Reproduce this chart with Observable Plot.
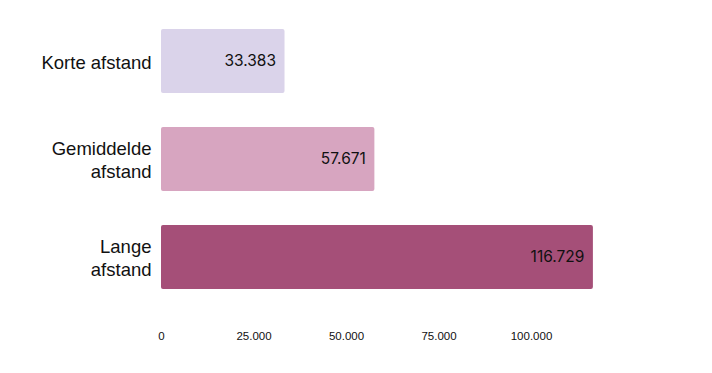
<!DOCTYPE html>
<html><head><meta charset="utf-8">
<script src="https://cdn.jsdelivr.net/npm/d3@7"></script>
<script src="https://cdn.jsdelivr.net/npm/@observablehq/plot@0.6"></script>
<style>body{margin:0;background:#fff}</style>
</head><body><div id="chart"></div>
<script>
const categories = ["Korte afstand", "Gemiddelde\nafstand", "Lange\nafstand"];
const values = [33383, 57671, 116729];
const colors = ["#dad3ea", "#d7a5c0", "#a54f78"];
const xTicks = [0, 25000, 50000, 75000, 100000];

const loc = d3.formatLocale({decimal: ",", thousands: ".", grouping: [3], currency: ["", ""]});
const fmt = loc.format(",d");
const data = categories.map((c, i) => ({cat: c, value: values[i], color: colors[i]}));

const chart = Plot.plot({
  width: 712, height: 373,
  marginLeft: 161, marginRight: 107, marginTop: 0, marginBottom: 56,
  style: {fontFamily: "Liberation Sans, Arial, sans-serif", background: "#fff"},
  x: {domain: [0, 120000], axis: null},
  y: {domain: categories, range: [0, 317], paddingInner: 0.35, paddingOuter: 0.29, axis: null},
  marks: [
    Plot.barX(data, {x: "value", y: "cat", fill: "color", rx: 2}),
    Plot.text(data, {x: "value", y: "cat", text: d => fmt(d.value), textAnchor: "end", dx: -9, fontSize: 15.5, fill: "#111", fontFamily: "Inter, Roboto, sans-serif"}),
    Plot.axisY({tickSize: 0, tickPadding: 10, fontSize: 18.5, fill: "#111", lineHeight: 1.25, label: null}),
    Plot.axisX({ticks: xTicks, tickFormat: fmt, tickSize: 0, tickPadding: 14, fontSize: 11.5, fill: "#111", label: null})
  ]
});
document.getElementById("chart").appendChild(chart);
</script></body></html>
